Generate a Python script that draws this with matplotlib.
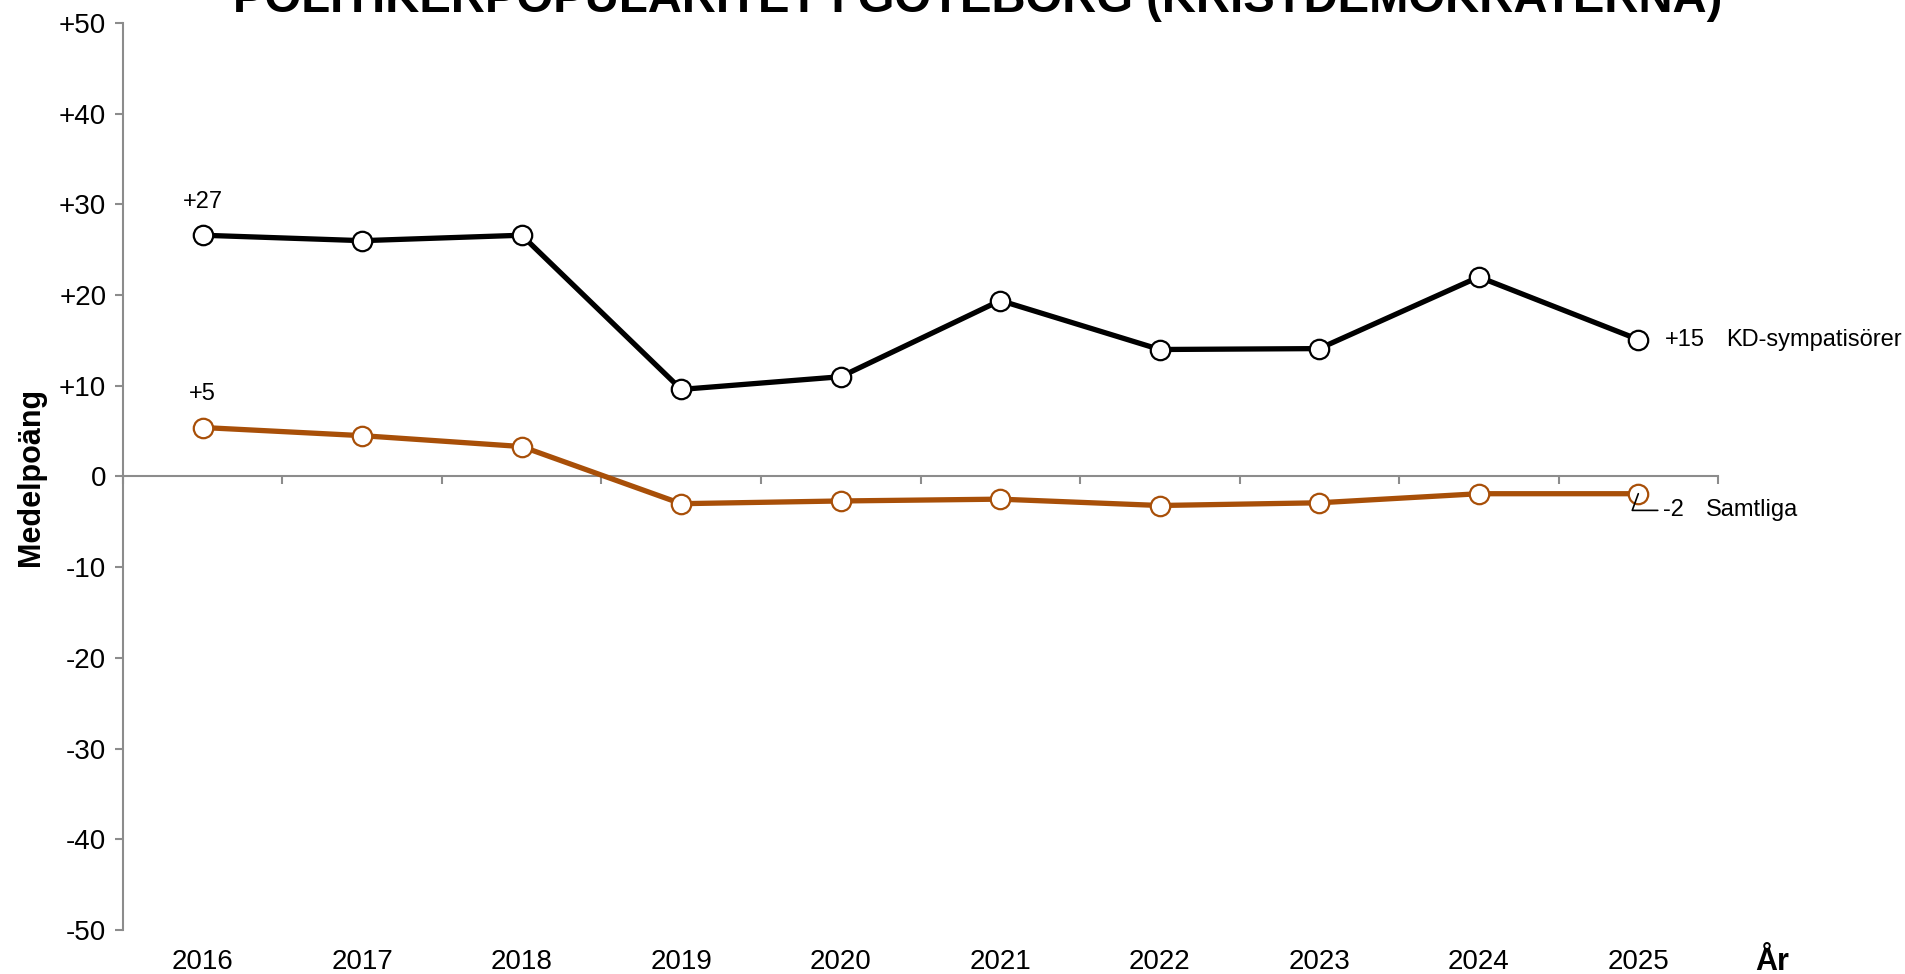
import matplotlib
matplotlib.use("Agg")
import matplotlib.pyplot as plt
import numpy as np

plt.rcParams['font.family'] = ['Liberation Sans', 'DejaVu Sans']

years = ["2016", "2017", "2018", "2019", "2020", "2021", "2022", "2023", "2024", "2025"]
kd_values = [26.6, 26.0, 26.6, 9.6, 11.0, 19.4, 14.0, 14.1, 22.0, 15.1]
all_values = [5.4, 4.5, 3.3, -3.0, -2.7, -2.5, -3.2, -2.9, -1.9, -1.9]
kd_name = "KD-sympatisörer"
all_name = "Samtliga"
yticks = [-50, -40, -30, -20, -10, 0, 10, 20, 30, 40, 50]
title = "POLITIKERPOPULARITET I GÖTEBORG (KRISTDEMOKRATERNA)"

orange = "#A84F08"
gray = "#8C8C8C"

fig = plt.figure(figsize=(19.06, 9.74), dpi=100)
ax = fig.add_axes([0.0645, 0.0452, 0.9014 - 0.0645, 0.9764 - 0.0452])
x = np.arange(len(years))

ax.plot(x, kd_values, color="black", lw=3.8, marker="o", ms=14,
        mfc="white", mec="black", mew=1.6, zorder=3)
ax.plot(x, all_values, color=orange, lw=3.8, marker="o", ms=14,
        mfc="white", mec=orange, mew=1.6, zorder=3)

ax.set_xlim(-0.5, len(years) - 0.5)
ax.set_ylim(-50, 50)

for s in ["top", "right"]:
    ax.spines[s].set_visible(False)
ax.spines["left"].set_color(gray)
ax.spines["left"].set_linewidth(1.5)
ax.spines["bottom"].set_position(("data", 0))
ax.spines["bottom"].set_color(gray)
ax.spines["bottom"].set_linewidth(1.5)

ax.set_yticks(yticks)
ax.set_yticklabels([("+%d" % v) if v > 0 else ("%d" % v) for v in yticks], fontsize=20)
ax.tick_params(axis="y", length=6, width=1.5, color=gray, pad=6)

ax.set_xticks(np.arange(len(years) + 1) - 0.5)
ax.set_xticklabels([])
ax.tick_params(axis="x", length=6, width=1.5, color=gray, direction="out")

trans = ax.get_xaxis_transform()
for i, yr in enumerate(years):
    ax.text(i, -0.035, yr, transform=trans, ha="center", va="center", fontsize=20)
ax.text(9.84, -0.035, "År", transform=trans, ha="center", va="center",
        fontsize=22, fontweight="bold")

ax.set_ylabel("Medelpoäng", fontsize=22, fontweight="bold")
ax.yaxis.set_label_coords(-0.048, 0.5)

# data labels
ax.annotate("+%d" % round(kd_values[0]), (x[0], kd_values[0]), xytext=(0, 16),
            textcoords="offset points", ha="center", va="bottom", fontsize=17)
ax.annotate("+%d" % round(all_values[0]), (x[0], all_values[0]), xytext=(0, 16),
            textcoords="offset points", ha="center", va="bottom", fontsize=17)

ax.annotate("+%d" % round(kd_values[-1]), (x[-1], kd_values[-1]), xytext=(19, 0),
            textcoords="offset points", ha="left", va="center", fontsize=17)
ax.annotate(kd_name, (x[-1], kd_values[-1]), xytext=(63, 0),
            textcoords="offset points", ha="left", va="center", fontsize=17)

ax.annotate("%d" % round(all_values[-1]), (x[-1], all_values[-1]), xytext=(18, -12),
            textcoords="offset points", ha="left", va="center", fontsize=17,
            arrowprops=dict(arrowstyle="-", color="black", lw=1.2,
                            connectionstyle="angle,angleA=0,angleB=70,rad=0",
                            shrinkA=2, shrinkB=0))
ax.annotate(all_name, (x[-1], all_values[-1]), xytext=(49, -12),
            textcoords="offset points", ha="left", va="center", fontsize=17)

fig.text(0.513, 1 - 12 / 974, title, ha="center", va="baseline",
         fontsize=34, fontweight="bold")

fig.savefig("out.png", dpi=100)
